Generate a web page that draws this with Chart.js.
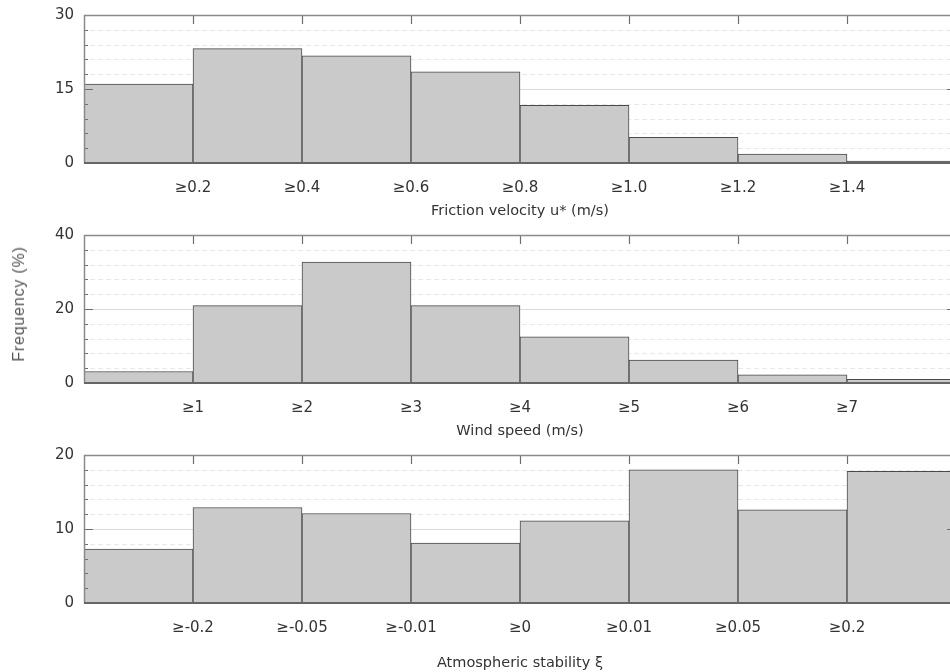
<!DOCTYPE html>
<html>
<head>
<meta charset="utf-8">
<script src="https://cdn.jsdelivr.net/npm/chart.js@4/dist/chart.umd.min.js"></script>
<style>
  html, body { margin: 0; padding: 0; background: #fff; overflow: hidden; }
  body { width: 950px; height: 672px; position: relative; }
  .panel { position: absolute; left: 0; width: 960px; }
  #ylabel {
    position: absolute; left: 19px; top: 304px;
    transform: translate(-50%, -50%) rotate(-90deg);
    font-family: "Liberation Sans", Arial, sans-serif;
    font-size: 16px; letter-spacing: 0.8px; color: #555; white-space: nowrap;
  }
</style>
</head>
<body>
<div class="panel" style="top:0"><canvas id="ustarChart" width="960" height="220"></canvas></div>
<div class="panel" style="top:220px"><canvas id="windChart" width="960" height="220"></canvas></div>
<div class="panel" style="top:440px"><canvas id="stabChart" width="960" height="232"></canvas></div>
<div id="ylabel">Frequency (%)</div>
<script>
// bin boundary labels and frequencies (%), one value per bin
const ustarLabels = ['≥0.2', '≥0.4', '≥0.6', '≥0.8', '≥1.0', '≥1.2', '≥1.4'];
const ustarFreq = [16.0, 23.2, 21.7, 18.5, 11.7, 5.2, 1.8, 0.4];

const windLabels = ['≥1', '≥2', '≥3', '≥4', '≥5', '≥6', '≥7'];
const windFreq = [3.1, 20.9, 32.7, 20.9, 12.5, 6.2, 2.2, 1.0];

const stabLabels = ['≥-0.2', '≥-0.05', '≥-0.01', '≥0', '≥0.01', '≥0.05', '≥0.2'];
const stabFreq = [7.3, 12.9, 12.1, 8.1, 11.1, 18.0, 12.6, 17.8];

// y-axis ranges: [max, major step]
const ustarY = [30, 15];
const windY = [40, 20];
const stabY = [20, 10];

const FONT = "'DejaVu Sans', Verdana, sans-serif";
const TEXT = '#333333';

// grid lines under the bars, frame and inward ticks over them
const framePlugin = {
    id: 'frame',
    beforeDatasetsDraw(chart, args, opts) {
        const { ctx, chartArea: a, scales: { y } } = chart;
        const minor = opts.major / 5;
        const n = Math.round(y.max / minor);
        ctx.save();
        ctx.lineWidth = 1;
        for (let i = 1; i < n; i++) {
            const py = Math.round(y.getPixelForValue(i * minor)) + 0.5;
            const isMajor = i % 5 === 0;
            ctx.strokeStyle = isMajor ? '#dadada' : '#e8e8e8';
            ctx.setLineDash(isMajor ? [] : [5, 3]);
            ctx.beginPath();
            ctx.moveTo(a.left + 6, py);
            ctx.lineTo(a.right, py);
            ctx.stroke();
        }
        ctx.restore();
    },
    afterDatasetsDraw(chart, args, opts) {
        const { ctx, chartArea: a, scales: { x, y } } = chart;
        const minor = opts.major / 5;
        const n = Math.round(y.max / minor);
        ctx.save();
        ctx.strokeStyle = '#6e6e6e';

        // left / right inward ticks
        ctx.lineWidth = 1.2;
        for (let i = 1; i < n; i++) {
            const py = Math.round(y.getPixelForValue(i * minor)) + 0.5;
            const len = i % 5 === 0 ? 9 : 4;
            ctx.beginPath();
            ctx.moveTo(a.left, py);
            ctx.lineTo(a.left + len, py);
            ctx.moveTo(a.right, py);
            ctx.lineTo(a.right - len, py);
            ctx.stroke();
        }
        // top inward ticks at bin boundaries
        for (let v = x.min + 1; v < x.max; v++) {
            const px = Math.round(x.getPixelForValue(v)) + 0.5;
            ctx.beginPath();
            ctx.moveTo(px, a.top);
            ctx.lineTo(px, a.top + 9);
            ctx.stroke();
        }
        // frame
        ctx.lineWidth = 1.5;
        ctx.strokeStyle = '#8a8a8a';
        ctx.beginPath();
        ctx.moveTo(a.left, a.top + 0.5);
        ctx.lineTo(a.right, a.top + 0.5);
        ctx.moveTo(a.left + 0.5, a.top);
        ctx.lineTo(a.left + 0.5, a.bottom);
        ctx.moveTo(a.right - 0.5, a.top);
        ctx.lineTo(a.right - 0.5, a.bottom);
        ctx.stroke();
        ctx.lineWidth = 2;
        ctx.strokeStyle = '#666666';
        ctx.beginPath();
        ctx.moveTo(a.left, a.bottom);
        ctx.lineTo(a.right, a.bottom);
        ctx.stroke();
        ctx.restore();
    }
};

function makeHistogram(id, labels, freq, yRange, title) {
    const canvas = document.getElementById(id);
    const [yMax, yStep] = yRange;
    return new Chart(canvas.getContext('2d'), {
        type: 'bar',
        data: {
            datasets: [{
                data: freq.map((f, i) => ({ x: i + 0.5, y: f })),
                backgroundColor: '#cacaca',
                borderColor: '#4a4a4a',
                borderWidth: 1,
                borderSkipped: 'bottom',
                barPercentage: 1,
                categoryPercentage: 1
            }]
        },
        options: {
            responsive: false,
            animation: false,
            events: [],
            layout: { padding: { top: 15, right: 4, left: 0, bottom: 0 } },
            plugins: {
                legend: { display: false },
                tooltip: { enabled: false },
                frame: { major: yStep }
            },
            scales: {
                x: {
                    type: 'linear',
                    min: 0,
                    max: labels.length + 1,
                    offset: false,
                    grid: { display: false, drawTicks: false, offset: false },
                    border: { display: false },
                    afterFit: scale => {
                        scale.height = canvas.height - 163;
                        scale.paddingLeft = 0;
                        scale.paddingRight = 0;
                    },
                    afterBuildTicks: scale => {
                        scale.ticks = labels.map((_, i) => ({ value: i + 1 }));
                    },
                    ticks: {
                        autoSkip: false,
                        maxRotation: 0,
                        padding: 16,
                        color: TEXT,
                        font: { family: FONT, size: 15 },
                        callback: value => labels[value - 1] || ''
                    },
                    title: {
                        display: true,
                        text: title,
                        color: TEXT,
                        padding: { top: 6, bottom: 0 },
                        font: { family: FONT, size: 14.5 }
                    }
                },
                y: {
                    min: 0,
                    max: yMax,
                    grid: { display: false, drawTicks: false },
                    border: { display: false },
                    afterFit: scale => {
                        scale.width = 84;
                        scale.paddingTop = 0;
                        scale.paddingBottom = 0;
                    },
                    ticks: {
                        stepSize: yStep,
                        padding: 10,
                        color: TEXT,
                        font: { family: FONT, size: 15 }
                    }
                }
            }
        },
        plugins: [framePlugin]
    });
}

makeHistogram('ustarChart', ustarLabels, ustarFreq, ustarY, 'Friction velocity u* (m/s)');
makeHistogram('windChart', windLabels, windFreq, windY, 'Wind speed (m/s)');
makeHistogram('stabChart', stabLabels, stabFreq, stabY, 'Atmospheric stability ξ');
</script>
</body>
</html>
